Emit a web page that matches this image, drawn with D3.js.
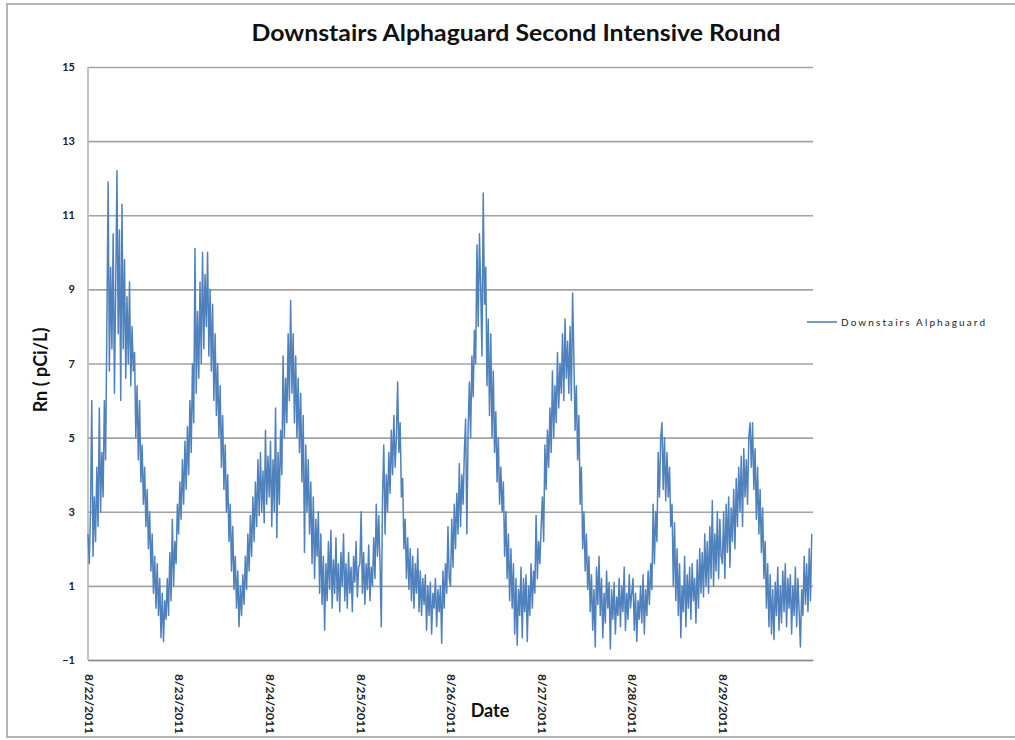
<!DOCTYPE html>
<html><head><meta charset="utf-8">
<script src="https://cdn.jsdelivr.net/npm/d3@7"></script>
<style>
html,body{margin:0;padding:0;background:#fff;}
svg{display:block;font-family:Lato,"Open Sans",sans-serif;}
</style></head>
<body><svg id="chart" width="1015" height="740"></svg>
<script>
const chartTitle = "Downstairs Alphaguard Second Intensive Round";
const yTitle = "Rn ( pCi/L)";
const xTitle = "Date";
const seriesName = "Downstairs Alphaguard";
const startDate = "2011-08-22";
const dayLabels = ["8/22/2011","8/23/2011","8/24/2011","8/25/2011","8/26/2011","8/27/2011","8/28/2011","8/29/2011"];
const yTicks = [-1,1,3,5,7,9,11,13,15];
const stepMinutes = 20;
// readings every 20 minutes, one array per day
const day22 = [2.4,1.6,3.0,6.0,1.8,3.4,2.2,4.2,2.6,5.8, 3.0,4.6,3.4,6.0,4.4,8.0,11.9,6.8,9.6,7.4, 10.5,6.2,9.0,12.2,7.8,10.6,6.0,11.3,7.4,9.8, 6.6,8.8,7.0,9.2,6.4,8.0,6.8,7.3,5.0,6.4, 4.4,6.0,3.8,4.8,3.2,4.2,2.6,3.6,2.0,3.0, 1.4,2.4,0.8,1.8,0.4,1.6,0.2,1.2,-0.4,0.8, -0.5,0.6,0.1,1.2,0.2,1.9,0.6,2.8,1.0,2.2,1.6,3.2];
const day23 = [2.4,3.8,2.8,4.4,3.2,4.9,3.6,5.3,4.0,6.0, 4.6,7.0,5.4,10.1,6.2,8.4,6.6,9.2,7.0,10.0, 7.4,9.4,8.0,10.0,7.2,9.0,6.8,8.6,6.0,7.8, 5.6,7.0,5.0,6.4,4.2,5.6,3.6,4.8,3.0,4.0, 2.2,3.2,1.4,2.6,0.9,1.8,0.4,1.4,-0.1,1.0, 0.2,1.3,0.5,1.8,0.9,2.4,1.4,2.9,1.8,3.4, 2.2,3.8,2.6,4.4,2.9,4.6,3.0,4.1,2.7,5.2,3.2,4.5];
const day24 = [3.4,4.9,2.6,4.4,3.0,5.8,2.3,4.6,3.2,5.2, 4.0,7.2,5.0,6.6,5.4,7.8,6.0,8.7,6.2,7.8, 5.4,7.2,5.0,6.6,4.6,6.2,3.8,5.6,1.9,4.8, 3.0,4.4,2.4,3.8,1.6,3.4,1.2,2.8,1.8,3.0, 0.8,2.4,0.5,1.8,-0.2,1.6,0.6,2.2,0.9,2.5, 0.4,1.7,0.8,2.3,0.6,1.6,0.3,1.9,1.0,2.4, 0.6,1.6,0.4,1.9,0.8,1.5,0.3,1.8,1.1,2.2,0.7,1.5];
const day25 = [1.6,3.0,0.8,1.9,0.5,1.6,0.9,2.1,0.6,1.5, 1.0,2.3,1.2,3.2,1.8,2.9,1.6,-0.1,3.4,4.8, 2.4,4.0,3.0,4.6,3.5,5.2,4.0,5.6,4.2,5.0, 6.5,4.6,5.4,3.4,3.9,2.0,2.8,1.2,2.3,0.9, 2.0,0.6,1.8,0.4,1.6,0.8,2.0,0.3,1.4,0.2, 1.2,0.5,1.3,-0.2,1.0,0.2,1.1,-0.3,0.8,0.4, 1.2,-0.1,0.9,0.3,1.0,-0.55,1.4,0.4,1.6,0.8,2.6,1.2];
const day26 = [1.0,2.8,1.5,3.2,2.0,3.5,2.4,4.3,2.6,4.0, 3.2,4.6,5.5,2.4,5.2,6.5,5.0,7.2,6.1,7.9, 7.0,10.2,8.0,10.5,9.0,7.2,11.6,8.6,9.6,6.4, 8.2,5.6,7.8,5.0,6.8,4.6,5.7,3.8,5.0,3.2, 4.2,3.0,3.8,1.8,3.0,1.2,2.4,0.6,2.0,0.4, 1.6,-0.3,1.2,-0.6,0.9,0.2,1.5,-0.4,1.2,0.3, 1.3,-0.5,1.0,0.2,1.6,0.4,1.4,0.8,2.9,1.2,2.2,1.6];
const day27 = [2.6,3.4,2.2,4.8,3.6,5.2,4.2,5.8,4.6,6.8, 5.0,6.4,5.4,7.3,5.8,7.0,6.2,7.8,6.0,8.2, 6.6,7.6,6.2,8.0,6.0,8.9,7.2,5.2,6.4,4.4, 5.6,3.2,4.2,2.0,3.0,1.4,2.4,0.9,1.8,0.3, 1.3,-0.2,0.9,-0.65,1.5,0.5,1.8,0.2,1.2,-0.4, 0.8,0.0,1.4,0.4,1.1,-0.7,0.9,0.1,1.1,-0.3, 0.7,0.2,1.2,-0.1,1.0,0.3,1.5,-0.2,0.8,0.1,1.3,0.4];
const day28 = [0.8,1.2,-0.2,0.8,-0.5,0.6,0.1,1.0,0.0,1.3, -0.3,0.9,0.2,1.4,0.5,1.6,0.9,3.2,1.6,3.0, 2.2,4.6,3.4,5.0,5.4,3.6,5.0,3.3,4.6,3.4, 4.2,2.6,3.2,1.0,2.7,0.6,2.0,0.2,1.6,-0.4, 1.0,0.3,1.8,-0.1,1.3,0.4,1.5,0.1,1.6,0.6, 1.2,0.0,1.7,0.4,2.0,0.8,1.9,0.7,2.4,1.0, 2.2,0.8,2.6,1.2,3.3,1.0,2.4,1.4,3.0,1.2,2.8,1.8];
const day29 = [1.6,3.0,1.2,3.2,1.9,3.4,1.5,3.1,2.2,3.6, 2.0,3.9,2.6,4.2,3.0,4.5,2.6,4.7,3.4,4.4, 3.2,5.0,5.4,4.2,5.4,3.6,4.7,2.8,4.2,2.4, 3.6,1.9,3.1,1.2,2.2,0.4,1.6,-0.1,1.3,-0.3, 0.9,-0.45,1.1,0.2,1.5,-0.2,1.0,0.0,1.4,0.3, 1.6,-0.1,1.2,0.4,1.3,-0.3,1.0,0.2,1.5,-0.1, 1.2,0.3,-0.65,0.9,0.2,1.8,0.5,1.6,0.3,2.0,0.6,2.4];

const days = [day22,day23,day24,day25,day26,day27,day28,day29];
const parse = d3.timeParse("%Y-%m-%d");
const t0 = parse(startDate);
const data = [];
days.forEach((arr, di) => {
  const dayStart = d3.timeDay.offset(t0, di);
  arr.forEach((v, i) => data.push({t: d3.timeMinute.offset(dayStart, i * stepMinutes), v}));
});

const svg = d3.select("#chart");
const W = 1015, H = 740;
const m = {left: 88, right: 202, top: 67, bottom: 80};
const pw = W - m.left - m.right, ph = H - m.top - m.bottom;

// outer border
svg.append("rect").attr("x", 7).attr("y", 4).attr("width", 1030).attr("height", 733)
  .attr("fill", "none").attr("stroke", "#b4b4b4").attr("stroke-width", 2);

const x = d3.scaleTime().domain([t0, d3.timeDay.offset(t0, 8)]).range([m.left, m.left + pw]);
const y = d3.scaleLinear().domain([-1, 15]).range([m.top + ph, m.top]);

// gridlines
svg.append("g").attr("transform", `translate(${m.left},0)`)
  .call(d3.axisLeft(y).tickValues(yTicks).tickSize(-pw).tickFormat(""))
  .call(g => g.select(".domain").remove())
  .call(g => g.selectAll("line").attr("stroke", "#a3a3a3").attr("stroke-width", 1.6));

// plot left border
svg.append("line").attr("x1", m.left).attr("x2", m.left).attr("y1", m.top).attr("y2", m.top + ph)
  .attr("stroke", "#b4b4b4").attr("stroke-width", 1.6);

// y axis labels
svg.append("g").attr("transform", `translate(${m.left},0)`)
  .call(d3.axisLeft(y).tickValues(yTicks).tickSize(0).tickPadding(13).tickFormat(d3.format("d")))
  .call(g => g.select(".domain").remove())
  .call(g => g.selectAll("text").attr("font-family", "Lato").attr("font-size", 11).attr("font-weight", "bold").attr("fill", "#222"));

// x axis
const xAxis = svg.append("g").attr("transform", `translate(0,${m.top + ph})`)
  .call(d3.axisBottom(x).ticks(d3.timeDay.every(1)).tickSize(0)
    .tickFormat((d, i) => dayLabels[i] !== undefined ? dayLabels[i] : ""));
xAxis.select(".domain").attr("stroke", "#8c8c8c").attr("stroke-width", 1.6);
xAxis.selectAll("text")
  .attr("font-family", "Lato").attr("font-size", 12).attr("font-weight", "bold").attr("fill", "#222")
  .attr("text-anchor", "start")
  .attr("transform", "rotate(90)")
  .attr("x", 14).attr("y", 0).attr("dy", "0.32em");

// line
const line = d3.line().x(d => x(d.t)).y(d => y(d.v));
svg.append("path").datum(data).attr("d", line)
  .attr("fill", "none").attr("stroke", "#4f81bd").attr("stroke-width", 1.5).attr("stroke-linejoin", "round");

// titles
svg.append("text").attr("x", 516).attr("y", 41).attr("text-anchor", "middle")
  .attr("font-family", "Lato").attr("font-weight", "bold").attr("font-size", 22).attr("fill", "#111")
  .attr("textLength", 529).attr("lengthAdjust", "spacingAndGlyphs").text(chartTitle);
svg.append("text").attr("transform", "translate(47,370) rotate(-90)").attr("text-anchor", "middle")
  .attr("font-family", "Lato").attr("font-weight", "bold").attr("font-size", 18).attr("fill", "#111").text(yTitle);
svg.append("text").attr("x", 490).attr("y", 717).attr("text-anchor", "middle")
  .attr("font-family", "Lato").attr("font-weight", "bold").attr("font-size", 18).attr("fill", "#111").text(xTitle);

// legend
const lg = svg.append("g");
lg.append("line").attr("x1", 807).attr("x2", 837).attr("y1", 322).attr("y2", 322)
  .attr("stroke", "#4f81bd").attr("stroke-width", 1.6);
lg.append("text").attr("x", 841).attr("y", 326).attr("font-family", "Lato").attr("font-size", 10)
  .attr("fill", "#222").attr("textLength", 144).attr("lengthAdjust", "spacing").text(seriesName);
</script></body></html>
